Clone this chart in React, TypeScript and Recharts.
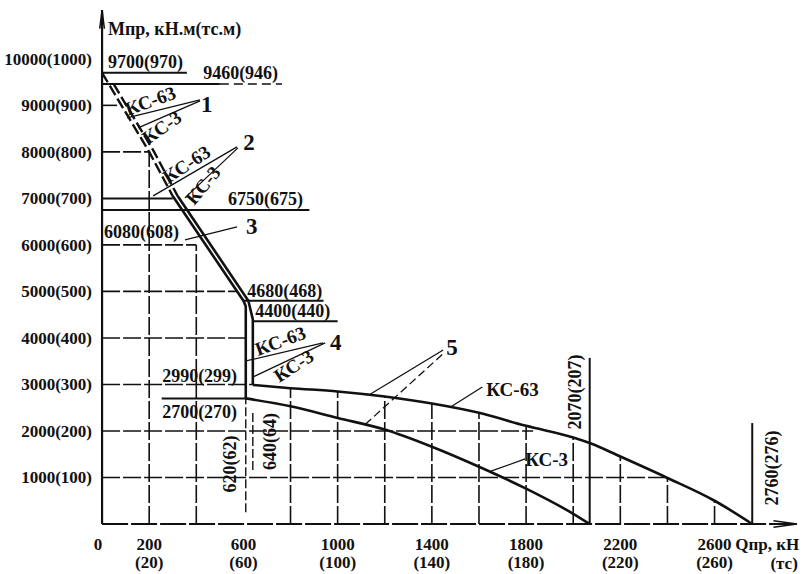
import { ComposedChart, Line, XAxis, YAxis, ReferenceLine, ReferenceDot } from 'recharts'

const INK = '#111'
const FONT = "'Liberation Serif', 'Times New Roman', serif"

// axis ticks
const xTicks = [0, 200, 600, 1000, 1400, 1800, 2200, 2600]
const yTicks = [1000, 2000, 3000, 4000, 5000, 6000, 7000, 8000, 9000, 10000]

// curves 5 (Q, M)
const ks63Curve = [
    { q: 640, m: 2990 }, { q: 800, m: 2920 }, { q: 1000, m: 2850 }, { q: 1200, m: 2740 },
    { q: 1400, m: 2590 }, { q: 1600, m: 2390 }, { q: 1800, m: 2110 }, { q: 2000, m: 1860 },
    { q: 2070, m: 1740 }, { q: 2200, m: 1450 }, { q: 2400, m: 990 }, { q: 2600, m: 500 },
    { q: 2760, m: 0 },
]
const ks3Curve = [
    { q: 610, m: 2700 }, { q: 800, m: 2530 }, { q: 1000, m: 2280 }, { q: 1200, m: 2030 },
    { q: 1400, m: 1660 }, { q: 1600, m: 1230 }, { q: 1800, m: 760 }, { q: 2000, m: 220 },
    { q: 2070, m: 0 },
]

// lines 1-4: upper envelope pair
const leftDashed = [{ q: 0, m: 9700 }, { q: 200, m: 8000 }, { q: 300, m: 7050 }]
const leftSolid = [{ q: 300, m: 7050 }, { q: 600, m: 4800 }, { q: 610, m: 4680 }, { q: 610, m: 2700 }]
const rightDashed = [{ q: 49, m: 9460 }, { q: 221, m: 8000 }, { q: 321, m: 7050 }]
const rightSolid = [{ q: 321, m: 7050 }, { q: 621, m: 4800 }, { q: 640, m: 4400 }, { q: 640, m: 2990 }]

// grid: [M, qFrom, qTo]
const gridRows = [
    [1000, 0, 2400], [2000, 0, 1830], [3000, 0, 640], [4000, 0, 610],
    [5000, 0, 573], [6000, 0, 400], [8000, 0, 200], [9000, 0, 64],
]
// grid: [Q, mFrom, mTo]
const gridCols = [
    [200, 0, 8000], [400, 0, 6000], [800, 0, 2920], [1000, 0, 2850], [1200, 0, 2740],
    [1400, 0, 2590], [1600, 0, 2390], [1800, 0, 2110], [2000, 0, 1860], [2200, 0, 1450],
    [2400, 0, 990], [2600, 0, 500],
]
// level lines under the value labels: [M, qFrom, qTo]
const levelRows = [
    [9700, 0, 360], [9460, 0, 500], [7000, 0, 300], [6750, 0, 880],
    [4800, 600, 940], [4360, 640, 1000], [2700, 253, 610],
]
const dashedRows = [[9460, 500, 764]]
// vertical limit lines: [Q, mFrom, mTo, dashed]
const limitCols = [
    [2070, 0, 3570, 0], [2760, 0, 2170, 0], [610, 250, 2700, 1], [640, 1160, 2450, 1],
]
// leader lines: [q1, m1, q2, m2, dashed]
const leaders = [
    [106, 8731, 416, 9118, 0], [153, 8516, 416, 9097, 0],
    [217, 7054, 573, 8108, 0], [352, 7011, 577, 8086, 0],
    [352, 6108, 573, 6387, 0],
    [611, 3505, 938, 3892, 0], [641, 3161, 947, 3892, 0],
    [1138, 2790, 1448, 3742, 0], [1117, 2140, 1456, 3699, 1],
    [1478, 2510, 1614, 2946, 0], [1648, 1130, 1796, 1398, 0],
]

// texts: text, q, m, rotate, size, anchor
const notes: [string, number, number, number, number, string][] = [
    ['Мпр, кН.м(тс.м)', 25, 10516, 0, 18, 'start'],
    ['Qпр, кН', 2688, -559, 0, 17, 'start'],
    ['(тс)', 2837, -968, 0, 17, 'start'],
    ['9700(970)', 25, 9806, 0, 18, 'start'],
    ['9460(946)', 429, 9570, 0, 18, 'start'],
    ['6750(675)', 535, 6860, 0, 18, 'start'],
    ['6080(608)', 8, 6150, 0, 18, 'start'],
    ['4680(468)', 616, 4882, 0, 18, 'start'],
    ['4400(440)', 650, 4452, 0, 18, 'start'],
    ['2990(299)', 255, 3054, 0, 18, 'start'],
    ['2700(270)', 255, 2280, 0, 18, 'start'],
    ['620(62)', 569, 1290, -90, 18, 'middle'],
    ['640(64)', 739, 1774, -90, 18, 'middle'],
    ['2070(207)', 2034, 2839, -90, 18, 'middle'],
    ['2760(276)', 2870, 1204, -90, 18, 'middle'],
    ['1', 420, 8860, 0, 23, 'start'],
    ['КС-63', 110, 8774, -20, 19, 'start'],
    ['КС-3', 195, 8150, -35, 19, 'start'],
    ['2', 599, 8043, 0, 23, 'start'],
    ['КС-63', 280, 7312, -33, 19, 'start'],
    ['КС-3', 391, 6839, -50, 19, 'start'],
    ['3', 611, 6237, 0, 23, 'start'],
    ['4', 968, 3742, 0, 23, 'start'],
    ['КС-63', 662, 3613, -20, 19, 'start'],
    ['КС-3', 752, 3032, -33, 19, 'start'],
    ['5', 1461, 3634, 0, 23, 'start'],
    ['КС-63', 1631, 2753, 0, 19, 'start'],
    ['КС-3', 1796, 1247, 0, 19, 'start'],
]

const XTick = (props: any) => {
    const { x, y, payload } = props
    const v = payload.value
    return (
        <g fontFamily={FONT} fontWeight="bold" fontSize={17} fill={INK}>
            <text x={v > 0 ? x : x - 4} y={y + 26} textAnchor="middle">{v}</text>
            {v > 0 && <text x={x} y={y + 44} textAnchor="middle">({v / 10})</text>}
        </g>
    )
}

const YTick = (props: any) => {
    const { x, y, payload } = props
    const v = payload.value
    return (
        <text x={x} y={y} dy={6} textAnchor="end" fontFamily={FONT} fontWeight="bold" fontSize={17} fill={INK}>
            {v}({v / 10})
        </text>
    )
}

const seg = (q1: number, m1: number, q2: number, m2: number) => [{ x: q1, y: m1 }, { x: q2, y: m2 }] as any

export default function App() {
    return (
        <div style={{ position: 'absolute', left: 0, top: 0, width: 803, height: 574, background: '#fff' }}>
            <ComposedChart width={803} height={574} margin={{ top: 10, right: 6, bottom: 0, left: 0 }}>
                <XAxis
                    type="number"
                    dataKey="q"
                    domain={[-30, 2950]}
                    ticks={xTicks}
                    interval={0}
                    height={50}
                    axisLine={false}
                    tickLine={false}
                    tickSize={0}
                    tickMargin={0}
                    tick={<XTick />}
                />
                <YAxis
                    type="number"
                    domain={[0, 11050]}
                    ticks={yTicks}
                    interval={0}
                    width={95}
                    axisLine={false}
                    tickLine={false}
                    tickSize={0}
                    tickMargin={3}
                    tick={<YTick />}
                />

                {gridRows.map(([m, a, b], i) => (
                    <ReferenceLine key={'gr' + i} segment={seg(a, m, b, m)} stroke={INK} strokeWidth={1.6} strokeDasharray="18 3" />
                ))}
                {gridCols.map(([q, a, b], i) => (
                    <ReferenceLine key={'gc' + i} segment={seg(q, a, q, b)} stroke={INK} strokeWidth={1.6} strokeDasharray="18 3" />
                ))}
                {levelRows.map(([m, a, b], i) => (
                    <ReferenceLine key={'lr' + i} segment={seg(a, m, b, m)} stroke={INK} strokeWidth={2} />
                ))}
                {dashedRows.map(([m, a, b], i) => (
                    <ReferenceLine key={'dr' + i} segment={seg(a, m, b, m)} stroke={INK} strokeWidth={1.6} strokeDasharray="9 5" />
                ))}
                {limitCols.map(([q, a, b, d], i) => (
                    <ReferenceLine key={'lc' + i} segment={seg(q, a, q, b)} stroke={INK} strokeWidth={d ? 1.4 : 2} strokeDasharray={d ? '9 3' : undefined} />
                ))}
                {leaders.map(([q1, m1, q2, m2, d], i) => (
                    <ReferenceLine key={'ld' + i} segment={seg(q1, m1, q2, m2)} stroke={INK} strokeWidth={1.3} strokeDasharray={d ? '8 4' : undefined} />
                ))}

                {/* axes with arrows */}
                <ReferenceLine segment={seg(0, 0, 0, 11050)} stroke={INK} strokeWidth={2.2} />
                <ReferenceLine segment={seg(0, 11050, -10, 10650)} stroke={INK} strokeWidth={1.5} ifOverflow="visible" />
                <ReferenceLine segment={seg(0, 11050, 10, 10650)} stroke={INK} strokeWidth={1.5} ifOverflow="visible" />
                <ReferenceLine segment={seg(0, 0, 2950, 0)} stroke={INK} strokeWidth={2} strokeDasharray="26 3" />
                <ReferenceLine segment={seg(2950, 0, 2850, 70)} stroke={INK} strokeWidth={1.5} ifOverflow="visible" />
                <ReferenceLine segment={seg(2950, 0, 2850, -70)} stroke={INK} strokeWidth={1.5} ifOverflow="visible" />

                <Line data={leftDashed} dataKey="m" type="linear" stroke={INK} strokeWidth={2.4} strokeDasharray="11 4" dot={false} activeDot={false} isAnimationActive={false} />
                <Line data={rightDashed} dataKey="m" type="linear" stroke={INK} strokeWidth={2.4} strokeDasharray="11 4" dot={false} activeDot={false} isAnimationActive={false} />
                <Line data={leftSolid} dataKey="m" type="linear" stroke={INK} strokeWidth={2.6} dot={false} activeDot={false} isAnimationActive={false} />
                <Line data={rightSolid} dataKey="m" type="linear" stroke={INK} strokeWidth={2.6} dot={false} activeDot={false} isAnimationActive={false} />
                <Line data={ks63Curve} dataKey="m" type="monotone" stroke={INK} strokeWidth={2.6} dot={false} activeDot={false} isAnimationActive={false} />
                <Line data={ks3Curve} dataKey="m" type="monotone" stroke={INK} strokeWidth={2.6} dot={false} activeDot={false} isAnimationActive={false} />

                {notes.map(([text, q, m, rot, size, anchor], i) => (
                    <ReferenceDot
                        key={'n' + i}
                        x={q}
                        y={m}
                        r={0}
                        ifOverflow="visible"
                        shape={(p: any) => (
                            <text
                                x={p.cx}
                                y={p.cy}
                                textAnchor={anchor as any}
                                transform={rot ? `rotate(${rot} ${p.cx} ${p.cy})` : undefined}
                                fontFamily={FONT}
                                fontWeight="bold"
                                fontSize={size}
                                fill={INK}
                            >
                                {text}
                            </text>
                        )}
                    />
                ))}
            </ComposedChart>
        </div>
    )
}
